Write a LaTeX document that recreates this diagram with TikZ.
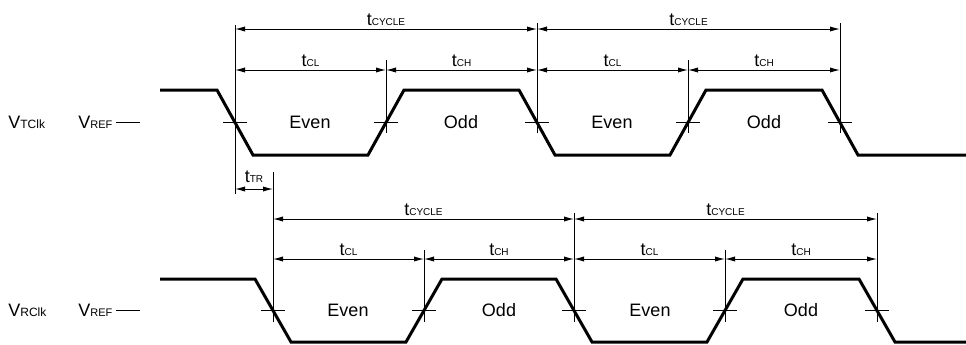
\documentclass[tikz,border=0pt]{standalone}
\usepackage{fontspec}
\setmainfont{Liberation Sans}
\usetikzlibrary{arrows.meta}
\newcommand{\tsub}[1]{t{\fontsize{5}{5}\selectfont #1}}
\newcommand{\vsub}[1]{V{\fontsize{5.5}{5.5}\selectfont #1}}

\begin{document}
\begin{tikzpicture}[x=0.5pt, y=-0.5pt, font=\fontsize{9}{10}\selectfont]
    % Styles
    \tikzstyle{wave} = [line width=1.5pt, line join=miter]
    \tikzstyle{guide} = [line width=0.5pt]
    \tikzstyle{dim} = [{Latex[length=5pt,width=2.6pt]}-{Latex[length=5pt,width=2.6pt]}, line width=0.5pt]
    \tikzstyle{dimtext} = [midway, above, inner sep=1.5pt]
    \tikzstyle{signame} = [anchor=west, inner sep=0pt]

    \useasboundingbox (0,0) rectangle (966,344);

    % Crossing points
    \coordinate (a0) at (235,122.5);
    \coordinate (a1) at (386,122.5);
    \coordinate (a2) at (537,122.5);
    \coordinate (a3) at (688,122.5);
    \coordinate (a4) at (840,122.5);
    \coordinate (b0) at (273,310.5);
    \coordinate (b1) at (424,310.5);
    \coordinate (b2) at (574,310.5);
    \coordinate (b3) at (725,310.5);
    \coordinate (b4) at (877,310.5);

    % Waveforms
    \draw[wave] (160,90) -- (217,90) -- (253,155) -- (368,155) -- (404,90) -- (519,90) -- (555,155)
        -- (670,155) -- (706,90) -- (822,90) -- (858,155) -- (966,155);
    \draw[wave] (160,279) -- (255,279) -- (291,342) -- (406,342) -- (442,279) -- (556,279) -- (592,342)
        -- (707,342) -- (743,279) -- (859,279) -- (895,342) -- (966,342);

    % Crossing ticks
    \foreach \p in {a0,a1,a2,a3,a4,b0,b1,b2,b3,b4}
        \draw[guide] (\p) +(-12,0) -- +(12,0);

    % Signal names
    \node[signame] (vtclk) at (8,122.5) {V{\fontsize{6}{6}\selectfont TClk}};
    \node[signame] (vref1) at (78,122.5) {\vsub{REF}};
    \draw[guide] (116,122.5) -- (140,122.5);
    \node[signame] (vrclk) at (8,310.5) {V{\fontsize{6}{6}\selectfont RClk}};
    \node[signame] (vref2) at (78,310.5) {\vsub{REF}};
    \draw[guide] (116,310.5) -- (140,310.5);

    % Phase names
    \node (even1) at (310,122.5) {Even};
    \node (odd1) at (461,122.5) {Odd};
    \node (even2) at (612,122.5) {Even};
    \node (odd2) at (764,122.5) {Odd};
    \node (even3) at (348,310.5) {Even};
    \node (odd3) at (499,310.5) {Odd};
    \node (even4) at (650,310.5) {Even};
    \node (odd4) at (801,310.5) {Odd};

    % Extension lines
    \draw[guide] (a0 |- 0,25) -- (a0 |- 0,194);
    \draw[guide] (a1 |- 0,60) -- (a1 |- 0,133);
    \draw[guide] (a2 |- 0,23) -- (a2 |- 0,133);
    \draw[guide] (a3 |- 0,60) -- (a3 |- 0,133);
    \draw[guide] (a4 |- 0,23) -- (a4 |- 0,133);
    \draw[guide] (b0 |- 0,172) -- (b0 |- 0,322);
    \draw[guide] (b1 |- 0,250) -- (b1 |- 0,322);
    \draw[guide] (b2 |- 0,213) -- (b2 |- 0,322);
    \draw[guide] (b3 |- 0,250) -- (b3 |- 0,322);
    \draw[guide] (b4 |- 0,213) -- (b4 |- 0,322);

    % Dimensions, transmit clock
    \draw[dim] (a0 |- 0,29) -- node[dimtext] {\tsub{CYCLE}} (a2 |- 0,29);
    \draw[dim] (a2 |- 0,29) -- node[dimtext] {\tsub{CYCLE}} (a4 |- 0,29);
    \draw[dim] (a0 |- 0,70) -- node[dimtext] {\tsub{CL}} (a1 |- 0,70);
    \draw[dim] (a1 |- 0,70) -- node[dimtext] {\tsub{CH}} (a2 |- 0,70);
    \draw[dim] (a2 |- 0,70) -- node[dimtext] {\tsub{CL}} (a3 |- 0,70);
    \draw[dim] (a3 |- 0,70) -- node[dimtext] {\tsub{CH}} (a4 |- 0,70);

    % Skew
    \draw[dim] (a0 |- 0,189) -- node[dimtext, inner sep=3pt] {\tsub{TR}} (b0 |- 0,189);

    % Dimensions, receive clock
    \draw[dim] (b0 |- 0,219) -- node[dimtext] {\tsub{CYCLE}} (b2 |- 0,219);
    \draw[dim] (b2 |- 0,219) -- node[dimtext] {\tsub{CYCLE}} (b4 |- 0,219);
    \draw[dim] (b0 |- 0,259) -- node[dimtext] {\tsub{CL}} (b1 |- 0,259);
    \draw[dim] (b1 |- 0,259) -- node[dimtext] {\tsub{CH}} (b2 |- 0,259);
    \draw[dim] (b2 |- 0,259) -- node[dimtext] {\tsub{CL}} (b3 |- 0,259);
    \draw[dim] (b3 |- 0,259) -- node[dimtext] {\tsub{CH}} (b4 |- 0,259);
\end{tikzpicture}
\end{document}
